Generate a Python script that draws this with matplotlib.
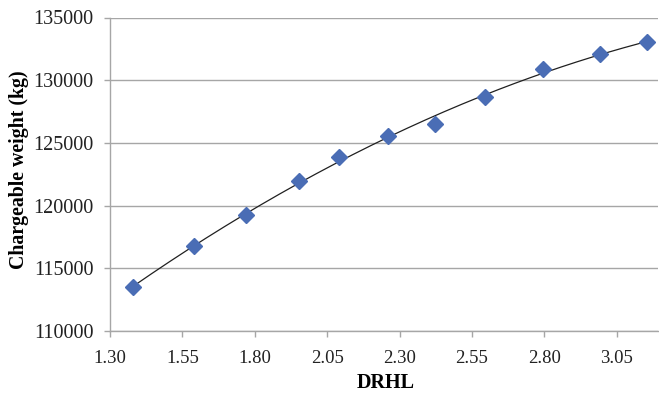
import numpy as np
import matplotlib
matplotlib.use("Agg")
import matplotlib.pyplot as plt

drhl = [1.380, 1.591, 1.770, 1.953, 2.092, 2.261, 2.422, 2.593, 2.794, 2.992, 3.153]
weight = [113530, 116780, 119250, 121990, 123900, 125550, 126480, 128690, 130920, 132070, 133020]
xticks = [1.30, 1.55, 1.80, 2.05, 2.30, 2.55, 2.80, 3.05]
xtick_labels = ["1.30", "1.55", "1.80", "2.05", "2.30", "2.55", "2.80", "3.05"]
yticks = [110000, 115000, 120000, 125000, 130000, 135000]

fig = plt.figure(figsize=(6.59, 3.94), dpi=100)
ax = fig.add_axes([110/659, 1-331/394, (658-110)/659, (331-17.5)/394])

grid_c = "#a6a6a6"
for y in yticks:
    ax.axhline(y, color=grid_c, lw=1.0, zorder=1)

# trendline (2nd order polynomial fit)
coef = np.polyfit(drhl, weight, 2)
xs = np.linspace(min(drhl), max(drhl) + 0.02, 200)
ax.plot(xs, np.polyval(coef, xs), color="#202020", lw=0.9, zorder=2)

ax.plot(drhl, weight, linestyle="none", marker="D", markersize=8,
        color="#4a6db5", markeredgecolor="#4a6db5", zorder=3)

ax.set_xlim(1.30, 3.192)
ax.set_ylim(110000, 135000)
ax.set_xticks(xticks)
ax.set_xticklabels(xtick_labels)
ax.set_yticks(yticks)
ax.set_yticklabels([str(v) for v in yticks])

for s in ["top", "right"]:
    ax.spines[s].set_visible(False)
for s in ["left", "bottom"]:
    ax.spines[s].set_color(grid_c)
    ax.spines[s].set_linewidth(1.0)

ax.tick_params(axis="both", colors=grid_c, length=4, width=1.0, direction="out",
               labelcolor="#222222")
ax.tick_params(axis="x", labelsize=13.5, pad=10)
ax.tick_params(axis="y", labelsize=14.5, pad=8)
for lab in ax.get_xticklabels() + ax.get_yticklabels():
    lab.set_family("Liberation Serif")

fig.text(385.5/659, 1-383.5/394, "DRHL", fontsize=14.5, fontweight="bold",
         family="Liberation Serif", ha="center", va="center")
fig.text(19/659, 1-170/394, "Chargeable weight (kg)", fontsize=14.3, fontweight="bold",
         family="Liberation Serif", ha="center", va="center", rotation=90)

fig.savefig("out.png", dpi=100)
